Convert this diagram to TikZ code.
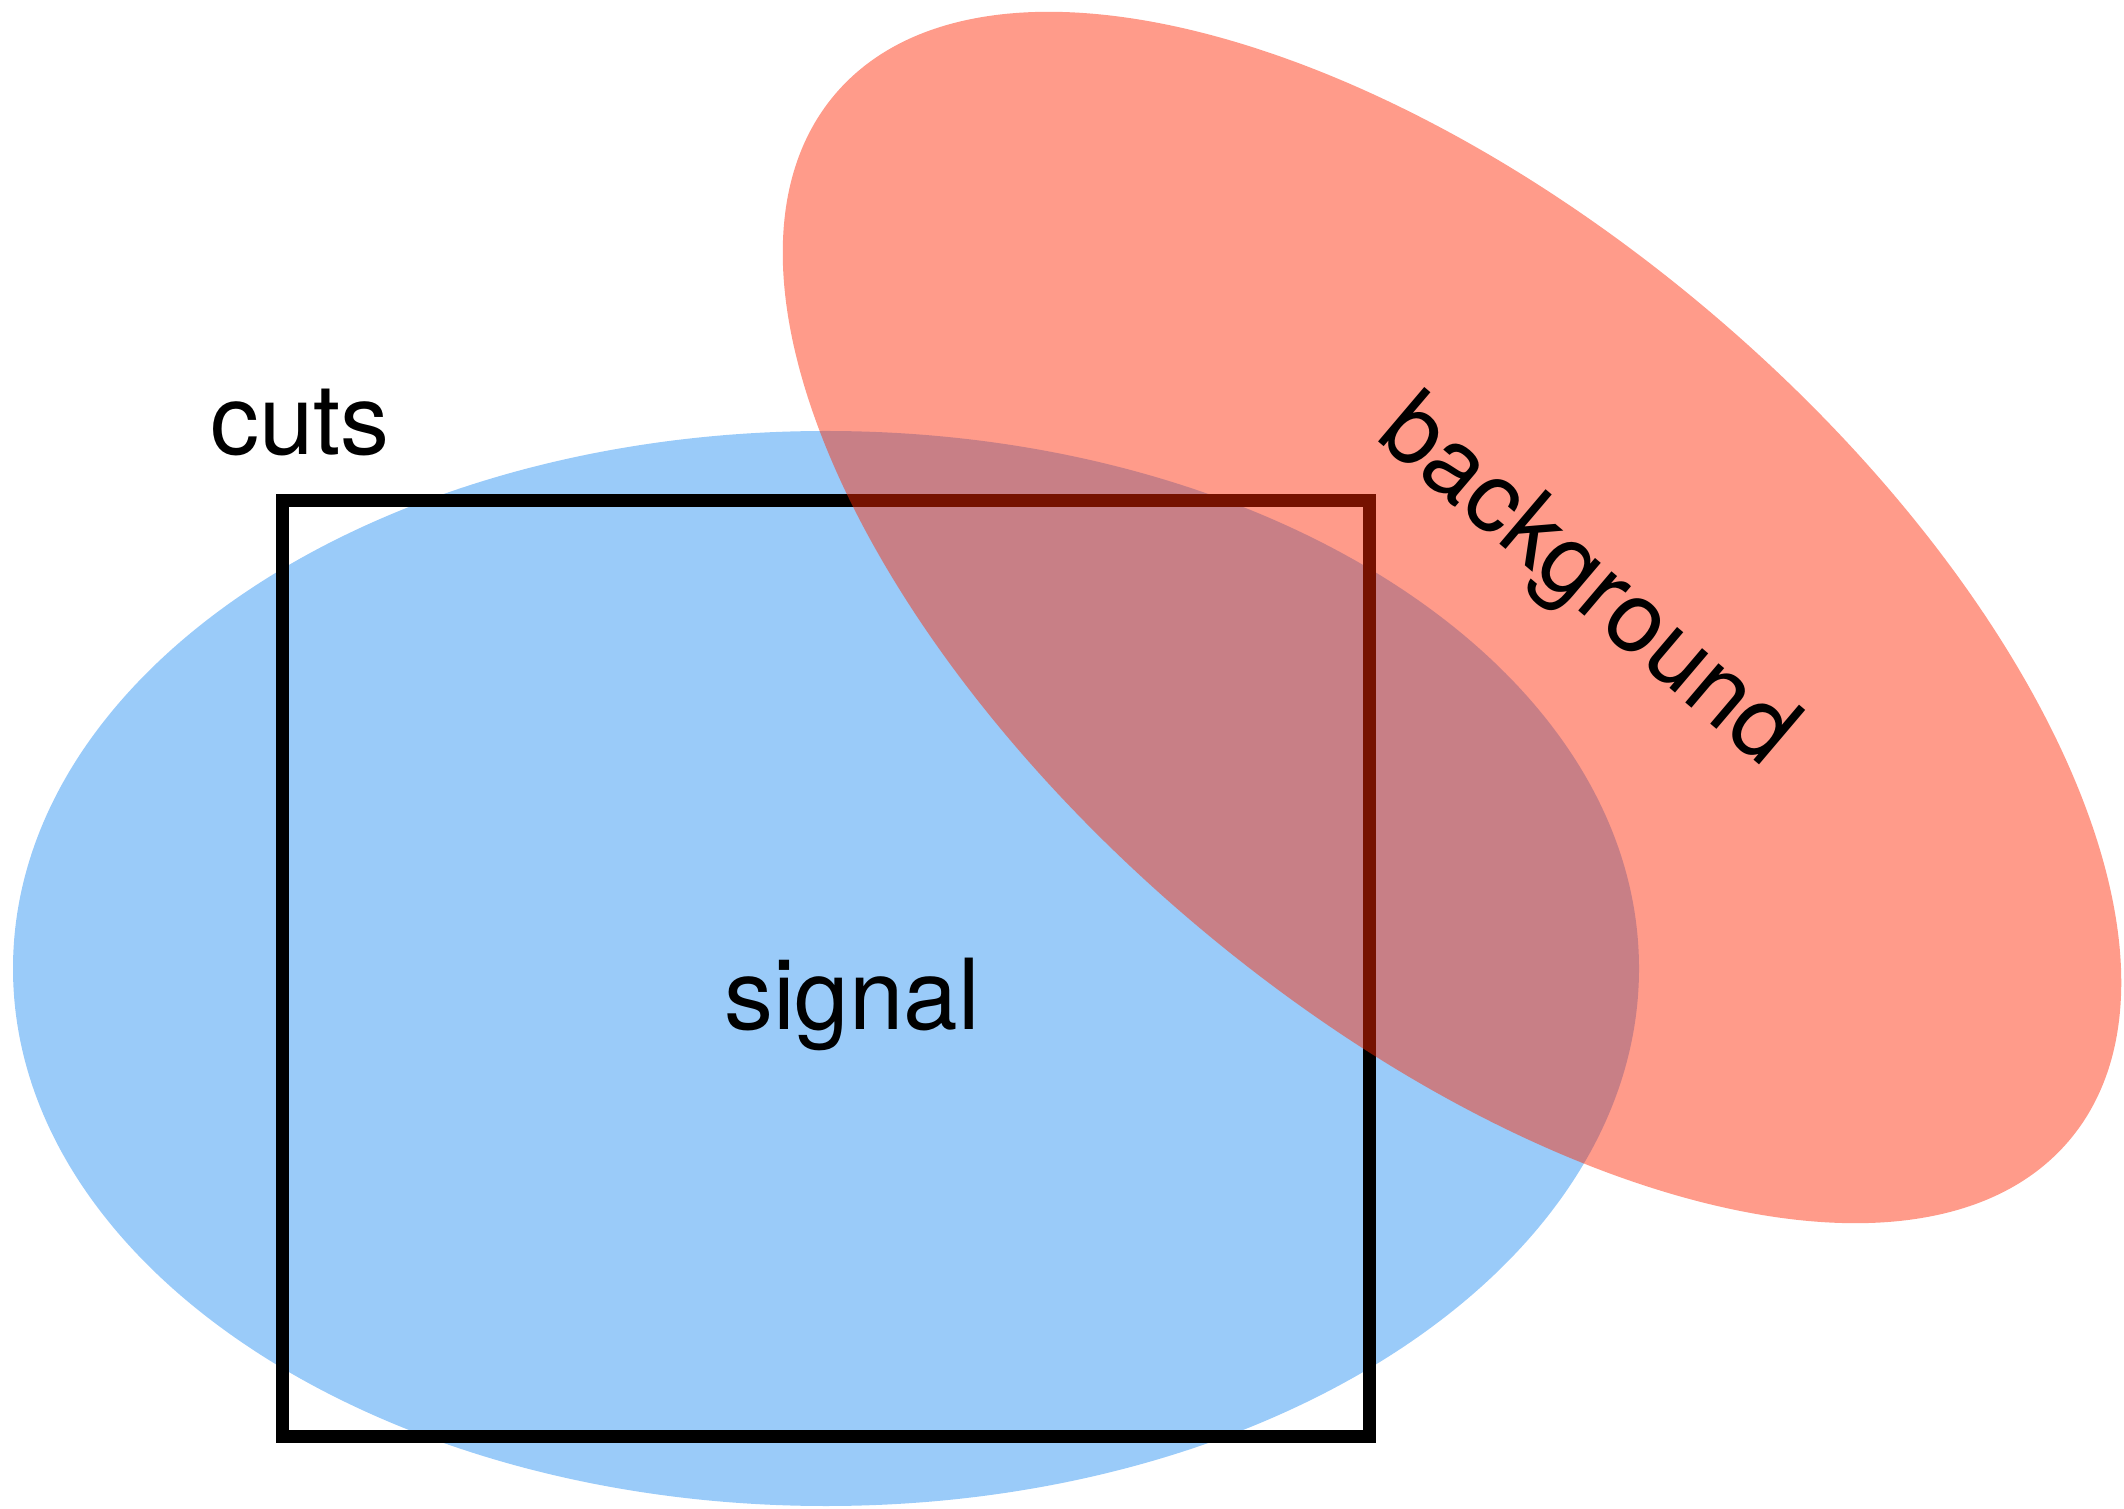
\documentclass[tikz,border=0pt]{standalone}
\usepackage{fontspec}
\setmainfont{TeX Gyre Heros}
\definecolor{sigblue}{RGB}{154,203,249}
\definecolor{bgred}{RGB}{255,39,2}
\begin{document}
\begin{tikzpicture}[x=1pt,y=1pt,
  lbl/.style={font=\fontsize{98}{100}\selectfont, anchor=base, inner sep=0pt}]
\useasboundingbox (0,0) rectangle (2124,1508);
% signal region
\fill[sigblue] (826,539.5) ellipse [x radius=813pt, y radius=537.5pt];
% cuts box
\draw[line width=13pt] (282.5,71.3) rectangle (1369,1007);
% background region
\fill[bgred, fill opacity=0.463, rotate around={-40.29:(1452,890.5)}]
  (1452,890.5) ellipse [x radius=809pt, y radius=400pt];
% labels
\node[lbl] (cuts) at (300,1053) {cuts};
\node[lbl] (signal) at (852,478.5) {signal};
\node[lbl, rotate=-40.3] (background) at (1569,904.5) {background};
\end{tikzpicture}
\end{document}
